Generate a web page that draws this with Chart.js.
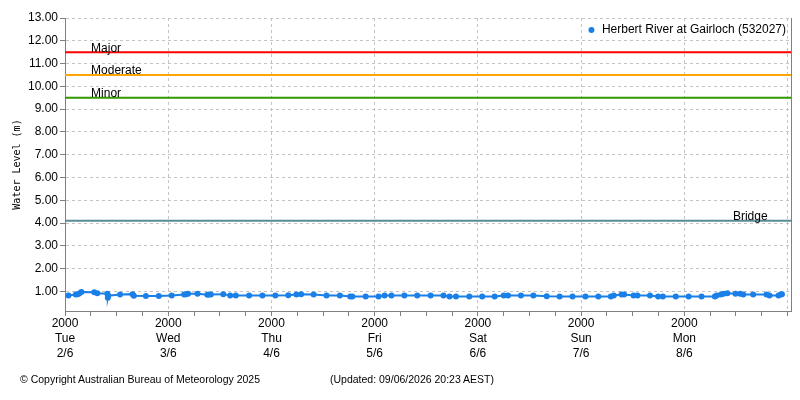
<!DOCTYPE html>
<html><head><meta charset="utf-8">
<script src="https://cdn.jsdelivr.net/npm/chart.js@4"></script>
<style>
html,body{margin:0;padding:0;background:#fff;}
#wrap{position:relative;width:800px;height:400px;}
.foot{position:absolute;top:373px;font:10.5px "Liberation Sans",sans-serif;color:#000;white-space:nowrap;}
</style></head><body>
<div id="wrap"><canvas id="c" width="800" height="400"></canvas>
<div class="foot" style="left:20px">© Copyright Australian Bureau of Meteorology 2025</div>
<div class="foot" style="left:330px">(Updated: 09/06/2026 20:23 AEST)</div>
</div>
<script>
// Hours since Tue 2/6 20:00
const hoursFromStart = [0.8,2.5,2.9,3.3,3.8,6.8,7.5,9.85,9.95,10.05,
  12.8,15.7,16.0,18.8,21.8,24.8,27.7,28.1,28.6,30.8,
  33.1,33.5,33.9,36.8,38.4,39.7,42.8,45.9,48.9,51.9,
  53.8,54.9,57.8,60.8,63.9,66.3,66.8,69.9,72.9,74.3,
  75.9,78.9,81.9,85.0,88.0,89.4,90.9,94.0,97.0,99.9,
  102.0,103.0,106.0,108.9,112.0,115.0,118.0,121.0,124.0,126.9,
  127.6,129.4,130.0,132.2,133.1,136.0,137.9,139.0,142.0,145.0,
  148.0,151.1,151.5,152.5,153.1,154.0,155.9,157.0,157.7,160.0,
  163.1,163.8,165.9,166.4,166.7];
const waterLevel = [0.82,0.86,0.88,0.91,0.97,0.96,0.92,0.90,0.72,0.81,
  0.86,0.88,0.81,0.80,0.80,0.82,0.86,0.88,0.90,0.90,
  0.85,0.86,0.86,0.88,0.82,0.82,0.82,0.82,0.82,0.83,
  0.86,0.88,0.86,0.82,0.82,0.78,0.78,0.78,0.78,0.82,
  0.82,0.82,0.82,0.82,0.82,0.78,0.78,0.78,0.78,0.78,
  0.82,0.82,0.82,0.82,0.79,0.78,0.78,0.78,0.78,0.78,
  0.82,0.86,0.86,0.82,0.82,0.82,0.78,0.78,0.78,0.78,
  0.78,0.78,0.82,0.86,0.90,0.92,0.90,0.90,0.86,0.86,
  0.86,0.82,0.82,0.86,0.88];
const seriesName = 'Herbert River at Gairloch (532027)';
const thresholdNames = ['Major','Moderate','Minor','Bridge'];
const thresholdLevels = [11.5,10.5,9.5,4.1];
const thresholdColors = ['#ff0000','#ffa500','#339900','#5a8c96'];
const thresholdLabelHours = [6.05,6.05,6.05,155.3];
const tickTime = '2000';
const dayNames = ['Tue','Wed','Thu','Fri','Sat','Sun','Mon'];
const dayDates = ['2/6','3/6','4/6','5/6','6/6','7/6','8/6'];
const yTickValues = [1,2,3,4,5,6,7,8,9,10,11,12,13];
const xMin = 0, xMax = 168.8, yMin = 0.14, yMax = 13;

const FONT = '"Liberation Sans", sans-serif';
const SERIES_COLOR = '#1a80e8';
const datasets = [{
  label: seriesName,
  data: hoursFromStart.map((h,i)=>({x:h,y:waterLevel[i]})),
  borderColor: SERIES_COLOR, backgroundColor: SERIES_COLOR,
  borderWidth: 2, pointRadius: 3, pointStyle: 'circle', pointBorderWidth: 0,
  tension: 0, order: 0
}];
thresholdNames.forEach((n,i)=>{
  datasets.push({
    label: n,
    data: [{x:xMin,y:thresholdLevels[i]},{x:xMax,y:thresholdLevels[i]}],
    borderColor: thresholdColors[i], borderWidth: 2, pointRadius: 0, order: 1
  });
});

const extras = {
  id: 'extras',
  afterDatasetsDraw(chart){
    const {ctx, chartArea, scales:{x,y}} = chart;
    ctx.save();
    ctx.font = '12px ' + FONT;
    ctx.fillStyle = '#000';
    ctx.textBaseline = 'alphabetic';
    thresholdNames.forEach((n,i)=>{
      ctx.fillText(n, x.getPixelForValue(thresholdLabelHours[i]), y.getPixelForValue(thresholdLevels[i]) - 0.5);
    });
    // right frame line
    ctx.strokeStyle = '#808080'; ctx.lineWidth = 1;
    ctx.beginPath();
    ctx.moveTo(Math.round(chartArea.right)+0.5, chartArea.top);
    ctx.lineTo(Math.round(chartArea.right)+0.5, chartArea.bottom);
    ctx.stroke();
    // legend inside plot, top right
    const tw = ctx.measureText(seriesName).width;
    const tx = chartArea.right - 5 - tw;
    const ty = chartArea.top + 12;
    ctx.textBaseline = 'middle';
    ctx.fillText(seriesName, tx, ty);
    ctx.fillStyle = SERIES_COLOR;
    ctx.beginPath();
    ctx.arc(tx - 10.5, ty, 3, 0, Math.PI*2);
    ctx.fill();
    ctx.restore();
  }
};

new Chart(document.getElementById('c'), {
  type: 'line',
  data: { datasets },
  plugins: [extras],
  options: {
    responsive: false, animation: false, devicePixelRatio: 1,
    layout: { padding: { left: 9, top: 18, right: 9, bottom: 39 } },
    plugins: {
      tooltip: { enabled: false },
      legend: { display: false }
    },
    scales: {
      x: {
        type: 'linear', min: xMin, max: xMax,
        afterBuildTicks: (axis) => {
          const t = [];
          for (let v = 0; v <= 168; v += 6) t.push({value: v});
          axis.ticks = t;
        },
        ticks: {
          autoSkip: false, maxRotation: 0, minRotation: 0, padding: 0,
          color: '#000', font: { family: FONT, size: 12, lineHeight: 1.25 },
          callback: (v) => (v % 24 === 0 && v/24 < dayNames.length) ? [tickTime, dayNames[v/24], dayDates[v/24]] : ''
        },
        grid: {
          color: (c) => (c.tick && c.tick.value % 24 === 0) ? '#c4c4c4' : 'rgba(0,0,0,0)',
          tickColor: '#808080', tickLength: 5, lineWidth: 1
        },
        border: { color: '#808080', width: 1, dash: [3,3] }
      },
      y: {
        type: 'linear', min: yMin, max: yMax,
        afterBuildTicks: (axis) => { axis.ticks = yTickValues.map(v=>({value:v})); },
        ticks: {
          padding: 2, color: '#000', font: { family: FONT, size: 12 },
          callback: (v) => Number(v).toFixed(2)
        },
        grid: { color: '#c4c4c4', tickColor: '#808080', tickLength: 5 },
        border: { color: '#808080', width: 1, dash: [3,3] },
        title: {
          display: true, text: 'Water Level (m)', color: '#000',
          font: { family: '"DejaVu Sans Mono", monospace', size: 10 },
          padding: { top: 2, bottom: 3 }
        }
      }
    }
  }
});
</script>
</body></html>
